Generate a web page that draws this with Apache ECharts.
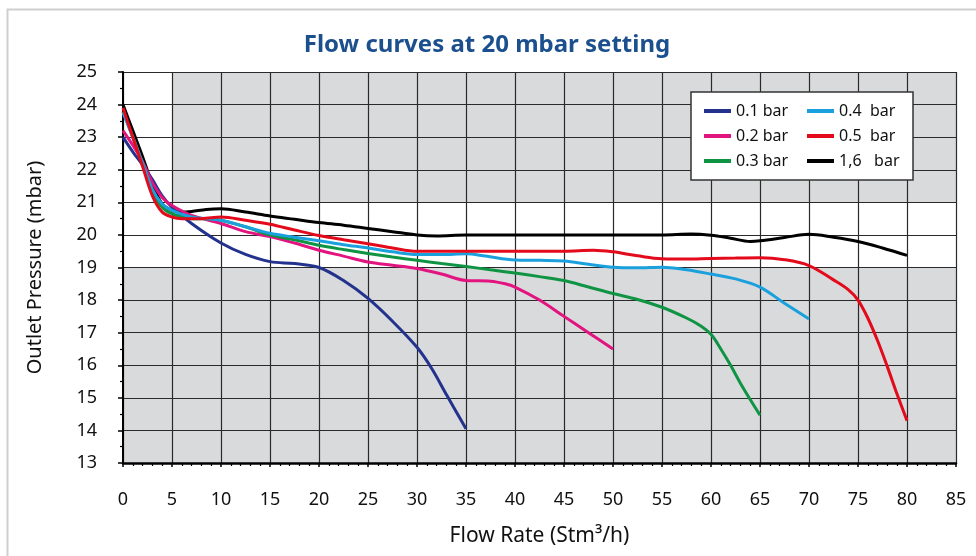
<!DOCTYPE html>
<html>
<head>
<meta charset="utf-8">
<script src="https://cdn.jsdelivr.net/npm/echarts@6/dist/echarts.min.js"></script>
<style>
  html, body { margin: 0; padding: 0; background: #fff; }
  #myEcharts { width: 976px; height: 556px; }
</style>
</head>
<body>
<div id="myEcharts"></div>
<script>
// flow rate (Stm3/h) / outlet pressure (mbar)
const flow01 = [0, 1, 2, 3, 4, 5, 7, 10, 12.5, 15, 17.5, 20, 22.5, 25, 27.5, 30, 31.5, 33, 35];
const pres01 = [23.0, 22.55, 22.15, 21.7, 21.2, 20.85, 20.35, 19.75, 19.4, 19.18, 19.12, 19.0, 18.6, 18.05, 17.35, 16.55, 15.9, 15.1, 14.05];

const flow02 = [0, 1, 2, 3, 4, 5, 7, 10, 12.5, 15, 17.5, 20, 22.5, 25, 27.5, 30, 32.5, 35, 37.5, 39, 40, 42.5, 45, 47.5, 50];
const pres02 = [23.2, 22.75, 22.25, 21.6, 21.15, 20.9, 20.6, 20.35, 20.1, 19.95, 19.75, 19.53, 19.35, 19.17, 19.07, 18.97, 18.8, 18.6, 18.58, 18.5, 18.4, 18.0, 17.5, 17.0, 16.5];

const flow03 = [0, 1, 2, 3, 4, 5, 7, 9, 10, 12.5, 15, 17.5, 20, 22.5, 25, 27.5, 30, 32.5, 35, 37.5, 40, 42.5, 45, 47.5, 50, 52.5, 55, 57.5, 59, 60, 61, 62, 63, 64, 65];
const pres03 = [23.78, 23.0, 22.2, 21.35, 20.85, 20.65, 20.5, 20.5, 20.45, 20.25, 20.0, 19.85, 19.68, 19.55, 19.43, 19.32, 19.22, 19.12, 19.03, 18.93, 18.83, 18.72, 18.6, 18.4, 18.2, 18.02, 17.78, 17.45, 17.2, 16.95, 16.5, 16.0, 15.45, 14.95, 14.47];

const flow04 = [0, 1, 2, 3, 4, 5, 7, 10, 12.5, 15, 17.5, 20, 22.5, 25, 27.5, 30, 32.5, 35, 37, 40, 42.5, 45, 47.5, 50, 52.5, 55, 57.5, 60, 62.5, 65, 67.5, 70];
const pres04 = [23.75, 23.0, 22.2, 21.4, 20.95, 20.75, 20.55, 20.45, 20.25, 20.05, 19.93, 19.82, 19.7, 19.6, 19.48, 19.4, 19.4, 19.42, 19.35, 19.23, 19.22, 19.2, 19.1, 19.01, 18.99, 19.01, 18.93, 18.8, 18.65, 18.4, 17.9, 17.42];

const flow05 = [0, 1, 2, 3, 4, 5, 6, 8, 10, 12.5, 15, 17.5, 20, 22.5, 25, 27.5, 30, 35, 40, 45, 48, 50, 52.5, 55, 57.5, 60, 62.5, 65, 67.5, 70, 72.5, 74, 75, 76, 77, 78, 79, 80];
const pres05 = [23.9, 23.0, 22.1, 21.2, 20.7, 20.55, 20.5, 20.5, 20.55, 20.45, 20.33, 20.15, 19.98, 19.85, 19.73, 19.6, 19.5, 19.5, 19.5, 19.5, 19.53, 19.48, 19.36, 19.27, 19.26, 19.28, 19.29, 19.3, 19.24, 19.06, 18.62, 18.32, 18.0, 17.45, 16.75, 15.95, 15.1, 14.3];

const flow16 = [0, 1, 2, 3, 4, 5, 6, 7, 8.5, 10, 12.5, 15, 17.5, 20, 22.5, 25, 27.5, 30, 32, 35, 40, 45, 50, 55, 58, 60, 62, 64, 65, 67.5, 70, 72.5, 75, 77.5, 80];
const pres16 = [24.0, 23.2, 22.4, 21.55, 20.95, 20.75, 20.7, 20.72, 20.78, 20.8, 20.7, 20.58, 20.48, 20.38, 20.3, 20.2, 20.1, 20.0, 19.97, 20.0, 20.0, 20.0, 20.0, 20.0, 20.03, 19.99, 19.9, 19.8, 19.82, 19.92, 20.02, 19.93, 19.8, 19.6, 19.37];

const seriesNames = ['0.1 bar', '0.2 bar', '0.3 bar', '0.4  bar', '0.5  bar', '1,6   bar'];
const seriesColors = ['#23328c', '#e2147f', '#0f9444', '#1ba0de', '#e30a1b', '#000000'];
const xTicks = { min: 0, max: 85, step: 5 };
const yTicks = { min: 13, max: 25, step: 1 };

function pairs(xs, ys) {
    return xs.map((x, i) => [x, ys[i]]);
}
const curves = [
    pairs(flow01, pres01), pairs(flow02, pres02), pairs(flow03, pres03),
    pairs(flow04, pres04), pairs(flow05, pres05), pairs(flow16, pres16)
];

let chart = echarts.init(document.getElementById("myEcharts"));

const font = '"Noto Sans", sans-serif';
let series = curves.map((d, i) => ({
    name: seriesNames[i],
    type: 'line',
    data: d,
    smooth: 0.35,
    symbol: 'none',
    lineStyle: { width: 3, color: seriesColors[i] },
    itemStyle: { color: seriesColors[i] },
    z: i === 5 ? 5 : 6
}));

// grey background bands, kept under the grid lines
series.push({
    name: 'bands',
    type: 'line',
    data: [],
    z: 0,
    silent: true,
    markArea: {
        silent: true,
        z: 0,
        itemStyle: { color: '#d9dadc' },
        data: [
            [{ xAxis: 0, yAxis: 13 }, { xAxis: 85, yAxis: 19 }],
            [{ xAxis: 5, yAxis: 21 }, { xAxis: 85, yAxis: 25 }]
        ]
    }
});

const legendBase = {
    orient: 'vertical',
    top: 102,
    padding: 0,
    itemGap: 7,
    itemWidth: 27, itemHeight: 4,
    icon: 'rect',
    z: 10,
    textStyle: { fontSize: 16, color: '#111', fontFamily: font, lineHeight: 18 }
};

chart.setOption({
    animation: false,
    backgroundColor: '#ffffff',
    title: {
        text: 'Flow curves at 20 mbar setting',
        left: 482,
        textAlign: 'center',
        top: 28,
        textStyle: { color: '#1b4f8e', fontSize: 24, fontWeight: 'bold', fontFamily: font }
    },
    legend: [
        Object.assign({}, legendBase, { data: seriesNames.slice(0, 3), left: 704 }),
        Object.assign({}, legendBase, { data: seriesNames.slice(3), left: 807 })
    ],
    graphic: [
        {
            type: 'rect',
            shape: { x: 691, y: 92, width: 222, height: 88 },
            style: { fill: '#fff', stroke: '#333', lineWidth: 1.5 },
            z: 8
        },
        {
            type: 'rect',
            shape: { x: 7.5, y: 9.5, width: 1000, height: 600 },
            style: { fill: null, stroke: '#cfcfcf', lineWidth: 2 },
            silent: true
        }
    ],
    grid: { left: 123, right: 20, top: 72, bottom: 93, show: false },
    xAxis: {
        type: 'value',
        z: 3,
        min: xTicks.min, max: xTicks.max, interval: xTicks.step,
        name: 'Flow Rate (Stm³/h)',
        nameLocation: 'middle',
        nameGap: 63,
        nameTextStyle: { fontSize: 21, color: '#111', fontFamily: font },
        axisLine: { show: true, onZero: false, lineStyle: { color: '#000', width: 2.5 } },
        axisTick: { show: true, inside: false, length: 4, lineStyle: { color: '#000', width: 1.5 } },
        minorTick: { show: true, splitNumber: 5, length: 3, lineStyle: { color: '#000', width: 1.2 } },
        axisLabel: { fontSize: 18, color: '#111', margin: 28, fontFamily: font },
        splitLine: { show: true, lineStyle: { color: '#2a2a2a', width: 1.2 } }
    },
    yAxis: {
        type: 'value',
        z: 3,
        min: yTicks.min, max: yTicks.max, interval: yTicks.step,
        name: 'Outlet Pressure (mbar)',
        nameLocation: 'middle',
        nameGap: 78,
        nameTextStyle: { fontSize: 20, color: '#111', fontFamily: font },
        axisLine: { show: true, onZero: false, lineStyle: { color: '#000', width: 2 } },
        axisTick: { show: true, length: 5, lineStyle: { color: '#000', width: 1.5 } },
        minorTick: { show: true, splitNumber: 2, length: 3, lineStyle: { color: '#000', width: 1.2 } },
        axisLabel: { fontSize: 18, color: '#111', margin: 26, fontFamily: font },
        splitLine: { show: true, lineStyle: { color: '#2a2a2a', width: 1.2 } }
    },
    series: series
});

window.addEventListener("resize", () => {
    chart.resize();
});
</script>
</body>
</html>
